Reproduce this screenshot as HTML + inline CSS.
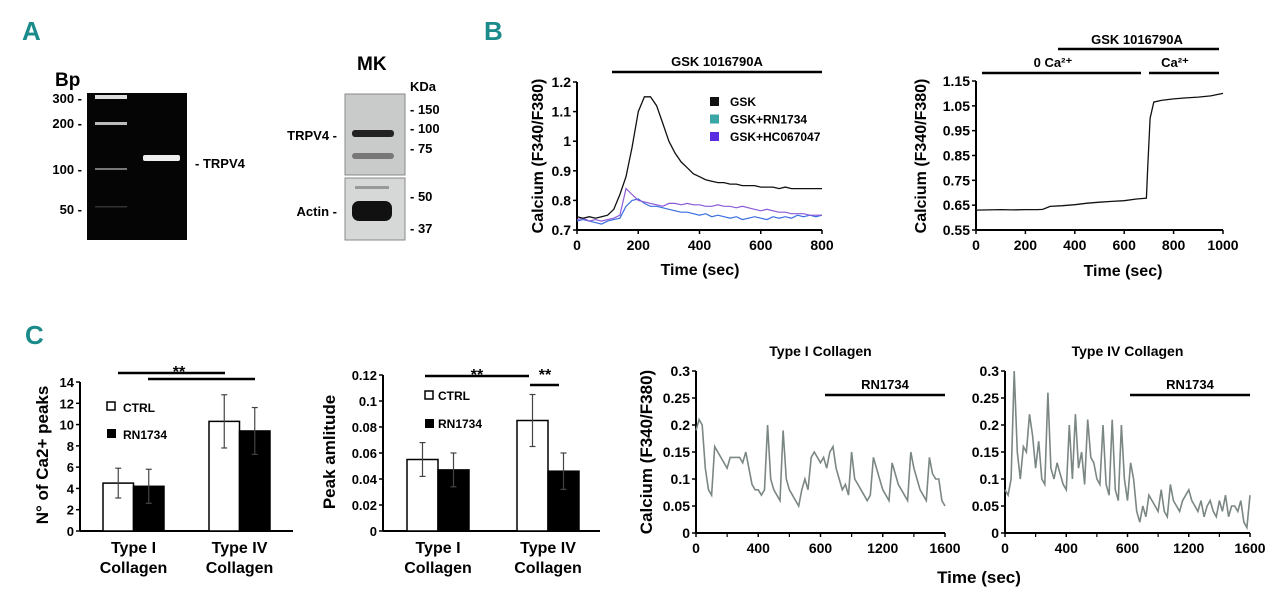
<!DOCTYPE html>
<html><head><meta charset="utf-8"><style>
html,body{margin:0;padding:0;background:#fff;width:1280px;height:596px;overflow:hidden}
svg{display:block;font-family:"Liberation Sans",Arial,sans-serif;font-weight:bold}
</style></head><body>
<svg id="fig" width="1280" height="596" viewBox="0 0 1280 596" xmlns="http://www.w3.org/2000/svg">
<text x="22" y="40" font-size="26" fill="#1a8a8a">A</text>
<text x="484" y="40" font-size="26" fill="#1a8a8a">B</text>
<text x="25" y="344" font-size="26" fill="#1a8a8a">C</text>

<g>
<text x="55" y="86" font-size="19">Bp</text>
<rect x="87" y="93" width="100" height="147" fill="#050505"/>
<rect x="95" y="95" width="32" height="4" fill="#ddd"/>
<rect x="95" y="122" width="32" height="3" fill="#bbb"/>
<rect x="95" y="168" width="32" height="2" fill="#777"/>
<rect x="95" y="206" width="32" height="1.5" fill="#333"/>
<rect x="143" y="155" width="37" height="6" rx="2" fill="#eee"/>
<g font-size="13" text-anchor="end">
<text x="82" y="103">300 -</text><text x="82" y="128">200 -</text><text x="82" y="174">100 -</text><text x="82" y="214">50 -</text>
</g>
<text x="195" y="168" font-size="13">- TRPV4</text>
</g>
<g>
<text x="357" y="70" font-size="19">MK</text>
<text x="410" y="91" font-size="13">KDa</text>
<rect x="345" y="94" width="60" height="81" fill="#c9cbcb" stroke="#888"/>
<rect x="352" y="130" width="42" height="7" rx="3" fill="#222"/>
<rect x="352" y="153" width="42" height="6" rx="3" fill="#777"/>
<rect x="345" y="178" width="60" height="62" fill="#d6d8d8" stroke="#888"/>
<rect x="352" y="201" width="40" height="20" rx="7" fill="#111"/>
<rect x="355" y="186" width="34" height="3" fill="#999"/>
<g font-size="13">
<text x="410" y="114">- 150</text><text x="410" y="133">- 100</text><text x="410" y="153">- 75</text><text x="410" y="201">- 50</text><text x="410" y="233">- 37</text>
</g>
<g font-size="13" text-anchor="end"><text x="337" y="140">TRPV4 -</text><text x="337" y="216">Actin -</text></g>
</g>
<g id="charts"></g>
</svg>
<script>
const b1Times=[0,20,40,60,80,100,120,140,160,180,200,220,240,260,280,300,320,340,360,380,400,420,440,460,480,500,520,540,560,580,600,620,640,660,680,700,720,740,760,780,800];
const b1GSK=[.745,.74,.745,.74,.745,.75,.77,.82,.88,.98,1.1,1.15,1.15,1.12,1.06,1.0,.96,.93,.91,.89,.88,.87,.865,.86,.86,.855,.855,.85,.85,.85,.845,.845,.845,.84,.845,.84,.84,.84,.84,.84,.84];
const b1RN=[.73,.735,.73,.725,.72,.73,.735,.74,.78,.8,.805,.79,.78,.78,.775,.77,.765,.76,.76,.755,.75,.755,.745,.75,.745,.74,.745,.735,.74,.745,.74,.735,.745,.74,.745,.74,.75,.745,.75,.745,.75];
const b1HC=[.735,.74,.73,.735,.73,.735,.74,.75,.84,.82,.8,.795,.79,.785,.78,.79,.79,.785,.79,.785,.785,.78,.78,.785,.78,.78,.775,.78,.775,.77,.765,.77,.765,.76,.76,.755,.755,.755,.75,.75,.75];
const b1YTicks=[0.7,0.8,0.9,1,1.1,1.2];
const b1XTicks=[0,200,400,600,800];
const b2Times=[0,50,100,150,200,250,270,300,350,400,450,500,550,600,650,690,695,705,720,750,800,850,900,950,1000];
const b2Vals=[.63,.631,.632,.631,.632,.632,.633,.645,.648,.652,.658,.662,.665,.668,.675,.678,.8,1.0,1.065,1.072,1.078,1.082,1.085,1.09,1.1];
const b2YTicks=[0.55,0.65,0.75,0.85,0.95,1.05,1.15];
const b2XTicks=[0,200,400,600,800,1000];
const barCats=["Type I|Collagen","Type IV|Collagen"];
const peaksCtrl=[4.5,10.3], peaksCtrlErr=[1.4,2.5];
const peaksRN=[4.2,9.4], peaksRNErr=[1.6,2.2];
const peaksYTicks=[0,2,4,6,8,10,12,14];
const ampCtrl=[0.055,0.085], ampCtrlErr=[0.013,0.02];
const ampRN=[0.047,0.046], ampRNErr=[0.013,0.014];
const ampYTicks=[0,0.02,0.04,0.06,0.08,0.1,0.12];
const trTimes=[0,20,40,60,80,100,120,140,160,180,200,220,240,260,280,300,320,340,360,380,400,420,440,460,480,500,520,540,560,580,600,620,640,660,680,700,720,740,760,780,800,820,840,860,880,900,920,940,960,980,1000,1020,1040,1060,1080,1100,1120,1140,1160,1180,1200,1220,1240,1260,1280,1300,1320,1340,1360,1380,1400,1420,1440,1460,1480,1500,1520,1540,1560,1580,1600];
const trType1=[.19,.21,.2,.12,.08,.07,.16,.15,.14,.13,.12,.14,.14,.14,.14,.13,.15,.12,.09,.08,.08,.07,.08,.2,.1,.08,.07,.06,.19,.1,.08,.07,.06,.05,.08,.1,.08,.14,.15,.14,.13,.14,.12,.15,.16,.12,.1,.08,.09,.07,.15,.1,.09,.08,.07,.06,.07,.14,.12,.1,.08,.07,.06,.13,.11,.09,.08,.07,.06,.15,.12,.1,.08,.07,.06,.14,.11,.1,.1,.06,.05];
const trType4=[.08,.07,.1,.3,.15,.1,.16,.15,.22,.18,.12,.17,.1,.09,.26,.12,.1,.13,.11,.09,.08,.2,.1,.22,.12,.15,.09,.21,.14,.13,.1,.09,.2,.09,.07,.21,.08,.06,.2,.1,.06,.13,.1,.04,.02,.05,.03,.07,.06,.05,.04,.08,.04,.03,.09,.06,.05,.04,.06,.07,.08,.06,.05,.04,.06,.03,.05,.06,.04,.03,.06,.04,.07,.03,.05,.05,.04,.06,.02,.01,.07];
const trYTicks=[0,0.05,0.1,0.15,0.2,0.25,0.3];
const trXTickVals=[0,400,800,1200,1600];
const trXTickLabels=["0","400","600","1200","1600"];

const NS="http://www.w3.org/2000/svg";
const root=document.getElementById('charts');
function mk(tag,attrs,parent,text){const e=document.createElementNS(NS,tag);for(const k in attrs)e.setAttribute(k,attrs[k]);if(text!==undefined)e.textContent=text;(parent||root).appendChild(e);return e;}
function lin(d0,d1,r0,r1){return v=>r0+(v-d0)/(d1-d0)*(r1-r0);}
function fmt(v){return String(+v.toFixed(3));}
function axes(g,x0,x1,y0,y1,sx,sy,yt,xt,xl,fs){
  mk('line',{x1:x0,y1:y0,x2:x0,y2:y1,stroke:'#000','stroke-width':2},g);
  mk('line',{x1:x0,y1:y0,x2:x1,y2:y0,stroke:'#000','stroke-width':2},g);
  yt.forEach(v=>{const y=sy(v);mk('line',{x1:x0-4,y1:y,x2:x0,y2:y,stroke:'#000','stroke-width':1.5},g);
    const t=mk('text',{x:x0-6,y:y+5,'font-size':fs||14,'text-anchor':'end'},g,fmt(v));
    });
  if(xt) xt.forEach((v,i)=>{const x=sx(v);mk('line',{x1:x,y1:y0,x2:x,y2:y0+4,stroke:'#000','stroke-width':1.5},g);
    const t=mk('text',{x:x,y:y0+20,'font-size':fs||14,'text-anchor':'middle'},g,xl?xl[i]:fmt(v));
    });
}
function line(g,xs,ys,sx,sy,color,w,name){
  const d=xs.map((t,i)=>(i?'L':'M')+sx(t).toFixed(1)+','+sy(ys[i]).toFixed(1)).join('');
  const p=mk('path',{d:d,fill:'none',stroke:color,'stroke-width':w||1.3},g);
  
}
function ytitle(g,x,y,txt,fs){const t=mk('text',{x:0,y:0,transform:`translate(${x},${y}) rotate(-90)`,'font-size':fs||16,'text-anchor':'middle'},g,txt);
  }
function bar(g,x1,x2,y,label,lx,ly){mk('line',{x1:x1,y1:y,x2:x2,y2:y,stroke:'#000','stroke-width':2.5},g);
  if(label){const t=mk('text',{x:lx,y:ly,'font-size':13,'text-anchor':'middle'},g,label);}}

// B1
{const g=mk('g',{});
 const sx=lin(0,800,577,822), sy=lin(0.7,1.2,230,82);
 axes(g,577,822,230,82,sx,sy,b1YTicks,b1XTicks,null,14);
 line(g,b1Times,b1RN,sx,sy,'#3a6ee0',1.2,'line-gsk-rn1734');
 line(g,b1Times,b1HC,sx,sy,'#8a5ad6',1.2,'line-gsk-hc067047');
 line(g,b1Times,b1GSK,sx,sy,'#111',1.3,'line-gsk');
 bar(g,612,822,72,'GSK 1016790A',717,66);
 ytitle(g,543,156,'Calcium (F340/F380)',16);
 const xt=mk('text',{x:700,y:275,'font-size':16,'text-anchor':'middle'},g,'Time (sec)');
 [['#111','GSK'],['#3aa6a6','GSK+RN1734'],['#5a2ee0','GSK+HC067047']].forEach((l,i)=>{
   const lg=mk('g',{},g);
   mk('rect',{x:710,y:97+i*17.5,width:9,height:9,fill:l[0]},lg);
   mk('text',{x:730,y:106+i*17.5,'font-size':12},lg,l[1]);});
}
// B2
{const g=mk('g',{});
 const sx=lin(0,1000,976,1223), sy=lin(0.55,1.15,230,81);
 axes(g,976,1223,230,81,sx,sy,b2YTicks,b2XTicks,null,14);
 line(g,b2Times,b2Vals,sx,sy,'#111',1.3,'line-calcium');
 bar(g,1058,1219,49,'GSK 1016790A',1137,44);
 bar(g,982,1141,73,'0 Ca²⁺',1053,67);
 bar(g,1149,1219,73,'Ca²⁺',1175,67);
 ytitle(g,926,156,'Calcium (F340/F380)',16);
 const xt=mk('text',{x:1123,y:276,'font-size':16,'text-anchor':'middle'},g,'Time (sec)');
}
// bar charts
function barChart(name,x0,x1,yTop,ymax,yt,ctrl,ctrlE,rn,rnE,cats,bw,catX){
 const g=mk('g',{});
 const sy=lin(0,ymax,531,yTop);
 axes(g,x0,x1,531,yTop,null,sy,yt,null,null,13);
 cats.forEach((c,i)=>{
   [[ctrl,ctrlE,'#fff',0],[rn,rnE,'#000',1]].forEach(s=>{
     const bx=catX[i]+s[3]*bw, v=s[0][i], e=s[1][i];
     const r=mk('rect',{x:bx,y:sy(v),width:bw,height:531-sy(v),fill:s[2],stroke:'#000','stroke-width':1.5},g);
     
     const cx=bx+bw/2;
     mk('line',{x1:cx,y1:sy(v+e),x2:cx,y2:sy(v-e),stroke:'#444','stroke-width':1.2},g);
     mk('line',{x1:cx-3,y1:sy(v+e),x2:cx+3,y2:sy(v+e),stroke:'#444','stroke-width':1.2},g);
     mk('line',{x1:cx-3,y1:sy(v-e),x2:cx+3,y2:sy(v-e),stroke:'#444','stroke-width':1.2},g);
   });
   const [a,b]=c.split('|');
   const t1=mk('text',{x:catX[i]+bw,y:553,'font-size':16,'text-anchor':'middle'},g,a);
   mk('text',{x:catX[i]+bw,y:573,'font-size':16,'text-anchor':'middle'},g,b);
 });
 return g;
}
{const g=barChart('chart-peak-count',80,293,382,14,peaksYTicks,peaksCtrl,peaksCtrlErr,peaksRN,peaksRNErr,barCats,30.5,[103,209]);
 ytitle(g,48,455,'N° of Ca2+ peaks',17);
 bar(g,118,225,373);bar(g,148,255,379);
 mk('text',{x:179,y:377,'font-size':16,'text-anchor':'middle'},g,'**');
 mk('rect',{x:107,y:402,width:8,height:8,fill:'#fff',stroke:'#000','stroke-width':1.5},g);
 mk('text',{x:123,y:412,'font-size':12},g,'CTRL');
 mk('rect',{x:107,y:429,width:9,height:9,fill:'#000'},g);
 mk('text',{x:123,y:439,'font-size':12},g,'RN1734');
}
{const g=barChart('chart-peak-amplitude',383,600,375,0.12,ampYTicks,ampCtrl,ampCtrlErr,ampRN,ampRNErr,barCats,31,[407,517]);
 ytitle(g,335,452,'Peak amlitude',17);
 bar(g,425,529,376);bar(g,530,559,385);
 mk('text',{x:477,y:380,'font-size':16,'text-anchor':'middle'},g,'**');
 mk('text',{x:545,y:380,'font-size':16,'text-anchor':'middle'},g,'**');
 mk('rect',{x:425,y:391,width:8,height:8,fill:'#fff',stroke:'#000','stroke-width':1.5},g);
 mk('text',{x:438,y:400,'font-size':12},g,'CTRL');
 mk('rect',{x:425,y:419,width:9,height:9,fill:'#000'},g);
 mk('text',{x:438,y:428,'font-size':12},g,'RN1734');
}
// traces
function trace(name,x0,x1,vals,title,barStart){
 const g=mk('g',{});
 const sx=lin(0,1600,x0,x1), sy=lin(0,0.3,533,371);
 axes(g,x0,x1,533,371,sx,sy,trYTicks,trXTickVals,trXTickLabels,14);
 [200,600,1000,1400].forEach(v=>mk('line',{x1:sx(v),y1:533,x2:sx(v),y2:537,stroke:'#000','stroke-width':1.2},g));
 line(g,trTimes,vals,sx,sy,'#7b8785',1.6,'trace-line');
 bar(g,barStart,x1,395,'RN1734',(barStart+x1)/2,389);
 const t=mk('text',{x:(x0+x1)/2,y:356,'font-size':14,'text-anchor':'middle'},g,title);
}
trace('chart-type1-trace',696,945,trType1,'Type I Collagen',825);
trace('chart-type4-trace',1005,1250,trType4,'Type IV Collagen',1130);
ytitle(root,652,452,'Calcium (F340/F380)',17);
{const t=mk('text',{x:979,y:583,'font-size':17,'text-anchor':'middle'},root,'Time (sec)');}
</script>
</body></html>
